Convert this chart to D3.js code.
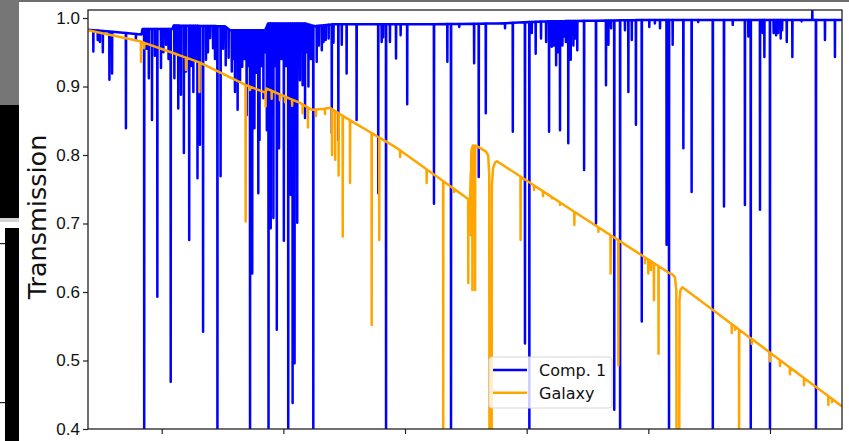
<!DOCTYPE html>
<html>
<head>
<meta charset="utf-8">
<script src="https://cdn.jsdelivr.net/npm/d3@7"></script>
<style>
  body { margin: 0; background: #fff; }
  svg { display: block; font-family: "DejaVu Sans", sans-serif; }
</style>
</head>
<body>
<svg id="chart" width="849" height="441"></svg>
<script>
// continuum nodes [wavelength, transmission]
const comp1Cont = [[1069.7,0.983],[1091.7,0.976],[1092.1,0.984],[1104.4,0.984],[1104.9,0.989],[1126.0,0.988],[1128.1,0.982],[1142.5,0.982],[1143.7,0.992],[1158.9,0.992],[1163.0,0.988],[1171.2,0.991],[1210.3,0.991],[1237.8,0.992],[1256.7,0.995],[1296.5,0.997],[1379.6,0.997]];

// absorption lines [wavelength, minimum transmission]
const comp1Lines = [
  [1071.9,0.951],[1073.7,0.968],[1074.6,0.965],[1075.8,0.950],[1078.5,0.910],[1079.6,0.919],[1085.3,0.839],[1089.4,0.968],
  [1092.8,0.38],[1093.8,0.955],[1094.7,0.912],[1096.0,0.851],[1097.2,0.945],[1098.2,0.593],[1099.7,0.927],[1100.7,0.950],
  [1101.8,0.961],[1102.8,0.940],[1103.7,0.469],[1105.2,0.912],[1105.9,0.950],[1106.8,0.868],[1107.9,0.888],[1109.1,0.803],
  [1110.0,0.922],[1111.3,0.676],[1112.0,0.930],[1113.0,0.892],[1113.9,0.940],[1114.7,0.766],[1115.7,0.815],[1117.0,0.542],
  [1118.2,0.939],[1119.0,0.950],[1119.9,0.971],[1121.1,0.956],[1121.9,0.940],[1122.9,0.38],[1124.2,0.769],[1125.2,0.955],
  [1126.3,0.931],[1127.5,0.942],[1128.8,0.922],[1129.5,0.940],[1130.1,0.892],[1131.2,0.866],[1132.2,0.909],[1133.1,0.929],
  [1134.0,0.940],[1134.9,0.858],[1135.7,0.930],[1136.3,0.38],[1137.2,0.627],[1138.1,0.839],[1139.0,0.920],[1139.7,0.744],
  [1140.2,0.822],[1141.0,0.930],[1141.8,0.883],[1142.3,0.950],[1143.2,0.836],[1143.9,0.38],[1144.8,0.693],[1145.3,0.940],
  [1145.9,0.708],[1146.5,0.930],[1147.3,0.545],[1148.2,0.810],[1149.2,0.940],[1150.2,0.675],[1151.1,0.930],[1152.0,0.38],
  [1153.0,0.742],[1153.8,0.438],[1154.6,0.496],[1155.2,0.940],[1155.7,0.701],[1156.4,0.950],[1156.8,0.909],[1157.9,0.902],
  [1158.9,0.854],[1159.7,0.950],[1160.3,0.900],[1161.3,0.940],[1162.3,0.38],[1163.7,0.936],[1164.6,0.960],[1165.8,0.953],
  [1166.5,0.965],[1167.4,0.968],[1168.6,0.970],[1169.9,0.832],[1170.6,0.964],[1172.6,0.822],[1174.0,0.961],[1176.0,0.919],
  [1180.1,0.851],[1189.0,0.744],[1190.4,0.965],[1191.0,0.972],[1192.2,0.38],[1193.8,0.965],[1196.3,0.941],[1198.2,0.975],
  [1200.9,0.874],[1211.9,0.729],[1217.4,0.936],[1218.9,0.38],[1222.3,0.987],[1228.4,0.934],[1230.3,0.768],[1233.2,0.861],
  [1241.1,0.985],[1244.3,0.834],[1249.3,0.525],[1251.1,0.38],[1252.1,0.978],[1253.7,0.948],[1255.9,0.970],[1258.0,0.965],
  [1259.2,0.834],[1260.3,0.958],[1261.2,0.960],[1262.1,0.931],[1262.9,0.950],[1263.7,0.836],[1264.7,0.960],[1265.5,0.973],
  [1266.1,0.965],[1267.1,0.817],[1268.1,0.939],[1269.2,0.960],[1270.0,0.970],[1270.8,0.953],[1273.6,0.778],[1278.5,0.700],
  [1282.6,0.902],[1283.6,0.961],[1284.7,0.985],[1286.0,0.428],[1288.4,0.38],[1290.4,0.982],[1291.8,0.892],[1293.2,0.968],
  [1294.9,0.844],[1297.3,0.557],[1300.4,0.987],[1302.7,0.992],[1304.8,0.985],[1307.5,0.669],[1308.5,0.38],[1310.0,0.961],
  [1314.4,0.810],[1317.8,0.746],[1320.5,0.994],[1326.5,0.38],[1331.1,0.725],[1334.7,0.990],[1339.7,0.727],[1341.1,0.973],
  [1342.1,0.38],[1345.9,0.720],[1347.0,0.978],[1347.7,0.943],[1350.0,0.38],[1351.5,0.978],[1352.5,0.975],[1353.3,0.978],
  [1354.4,0.970],[1355.0,0.982],[1356.9,0.965],[1359.2,0.943],[1363.0,0.995],[1367.4,1.011],[1368.9,0.38],[1372.6,0.968],
  [1376.7,0.943]
];

const galaxyCont = [[1069.7,0.982],[1091.1,0.966],[1115.7,0.935],[1134.6,0.902],[1142.7,0.891],[1143.1,0.897],[1156.8,0.876],[1161.8,0.866],[1165.9,0.867],[1169.1,0.869],[1175.4,0.855],[1196.7,0.810],[1225.5,0.737],[1226.7,0.734],[1227.3,0.807],[1227.9,0.814],[1229.6,0.813],[1233.3,0.805],[1234.2,0.799],[1234.6,0.771],[1234.7,0.355],[1235.6,0.355],[1235.7,0.756],[1236.2,0.781],[1237.0,0.789],[1237.8,0.791],[1271.8,0.712],[1308.9,0.627],[1309.7,0.626],[1310.9,0.622],[1311.5,0.603],[1311.6,0.355],[1312.7,0.355],[1312.8,0.588],[1313.2,0.603],[1314.0,0.607],[1379.6,0.433]];

const galaxyLines = [
  [1091.5,0.936],[1092.8,0.956],[1106.2,0.946],[1110.0,0.924],[1115.5,0.892],[1134.5,0.703],[1136.3,0.895],[1142.7,0.871],
  [1145.2,0.882],[1148.6,0.880],[1150.7,0.877],[1153.6,0.872],[1157.9,0.861],[1160.1,0.840],[1163.4,0.857],[1167.1,0.860],
  [1170.0,0.800],[1171.3,0.793],[1172.7,0.770],[1174.4,0.681],[1177.4,0.759],[1186.3,0.552],[1189.4,0.676],[1198.0,0.797],
  [1208.9,0.759],[1215.7,0.38],[1220.1,0.746],[1226.0,0.613],[1227.1,0.683],[1227.7,0.603],[1228.8,0.603],[1247.5,0.676],
  [1253.0,0.749],[1256.7,0.740],[1260.3,0.737],[1263.7,0.727],[1269.6,0.698],[1279.5,0.688],[1284.5,0.627],[1287.7,0.493],
  [1298.6,0.642],[1300.0,0.627],[1301.1,0.632],[1302.3,0.588],[1304.2,0.510],[1334.3,0.540],[1335.7,0.545],[1337.3,0.38],
  [1342.5,0.524],[1350.0,0.499],[1354.1,0.492],[1358.2,0.480],[1364.0,0.464],[1374.0,0.435],[1375.5,0.439]
];

const xTicks = [1100, 1150, 1200, 1250, 1300, 1350];
const yTicks = [0.4, 0.5, 0.6, 0.7, 0.8, 0.9, 1.0];
const seriesNames = ["Comp. 1", "Galaxy"];
const seriesColors = ["#0000ff", "#ffa500"];

const svg = d3.select("#chart");
const plotLeft = 88, plotRight = 842, plotTop = 10, plotBottom = 429;

// screenshot edge remnants on the left
svg.append("rect").attr("x", 0).attr("y", 0).attr("width", 849).attr("height", 2).attr("fill", "#6e6e6e");
svg.append("rect").attr("x", 0).attr("y", 0).attr("width", 19).attr("height", 105).attr("fill", "#767676");
svg.append("rect").attr("x", 0).attr("y", 105).attr("width", 19).attr("height", 113).attr("fill", "#000");
svg.append("rect").attr("x", 0).attr("y", 218).attr("width", 19).attr("height", 4).attr("fill", "#d4d4d4");
svg.append("rect").attr("x", 0).attr("y", 228).attr("width", 19).attr("height", 213).attr("fill", "#000");
svg.append("rect").attr("x", 0).attr("y", 228).attr("width", 5).attr("height", 213).attr("fill", "#fff");
svg.append("rect").attr("x", 0).attr("y", 243).attr("width", 5).attr("height", 1.2).attr("fill", "#222");
svg.append("rect").attr("x", 0).attr("y", 402).attr("width", 5).attr("height", 1.2).attr("fill", "#222");

const x = d3.scaleLinear().domain([1069.7, 1379.6]).range([plotLeft, plotRight]);
const y = d3.scaleLinear().domain([0.4, 1.0117]).range([plotBottom, plotTop]);

svg.append("clipPath").attr("id", "plot")
  .append("rect").attr("x", plotLeft).attr("y", plotTop)
  .attr("width", plotRight - plotLeft).attr("height", plotBottom - plotTop);

function spectrum(cont, lines) {
  const c = d3.scaleLinear().domain(cont.map(d => d[0])).range(cont.map(d => d[1]));
  const pts = cont.map(d => [d[0], d[1]]);
  lines.forEach(([lx, lv]) => {
    pts.push([lx - 0.06, c(lx - 0.06)], [lx, lv], [lx + 0.06, c(lx + 0.06)]);
  });
  pts.sort((a, b) => a[0] - b[0]);
  return pts;
}

const line = d3.line().x(d => x(d[0])).y(d => y(d[1]));
const g = svg.append("g").attr("clip-path", "url(#plot)");

g.append("path")
  .attr("d", line(spectrum(comp1Cont, comp1Lines)))
  .attr("fill", "none").attr("stroke", seriesColors[0])
  .attr("stroke-width", 2.5).attr("stroke-linejoin", "round");

g.append("path")
  .attr("d", line(spectrum(galaxyCont, galaxyLines)))
  .attr("fill", "none").attr("stroke", seriesColors[1])
  .attr("stroke-width", 2.5).attr("stroke-linejoin", "round");

// axes
const xAxis = svg.append("g")
  .attr("transform", "translate(0," + plotBottom + ")")
  .call(d3.axisBottom(x).tickValues(xTicks).tickSize(5).tickSizeOuter(0).tickFormat(""));
const yAxis = svg.append("g")
  .attr("transform", "translate(" + plotLeft + ",0)")
  .call(d3.axisLeft(y).tickValues(yTicks).tickSize(5).tickSizeOuter(0).tickPadding(3).tickFormat(d3.format(".1f")));
[xAxis, yAxis].forEach(a => {
  a.select(".domain").remove();
  a.selectAll(".tick line").attr("stroke", "#222").attr("stroke-width", 1.2);
});
yAxis.selectAll(".tick text").attr("font-size", 17).attr("fill", "#111");

svg.append("rect")
  .attr("x", plotLeft).attr("y", plotTop)
  .attr("width", plotRight - plotLeft).attr("height", plotBottom - plotTop)
  .attr("fill", "none").attr("stroke", "#222").attr("stroke-width", 1.3);

svg.append("text")
  .attr("transform", "translate(46,217) rotate(-90)")
  .attr("text-anchor", "middle")
  .attr("font-size", 25.5).attr("fill", "#111")
  .text("Transmission");

// legend
const leg = svg.append("g").attr("transform", "translate(489,357)");
leg.append("rect").attr("width", 123).attr("height", 51).attr("rx", 3)
  .attr("fill", "#fff").attr("fill-opacity", 0.8).attr("stroke", "#d6d6d6").attr("stroke-width", 1);
seriesNames.forEach((name, i) => {
  const yy = 13 + i * 22.7;
  leg.append("line").attr("x1", 4).attr("x2", 38).attr("y1", yy).attr("y2", yy)
    .attr("stroke", seriesColors[i]).attr("stroke-width", 2.5);
  leg.append("text").attr("x", 50).attr("y", yy + 5.8)
    .attr("font-size", 16).attr("fill", "#111").text(name);
});
</script>
</body>
</html>
